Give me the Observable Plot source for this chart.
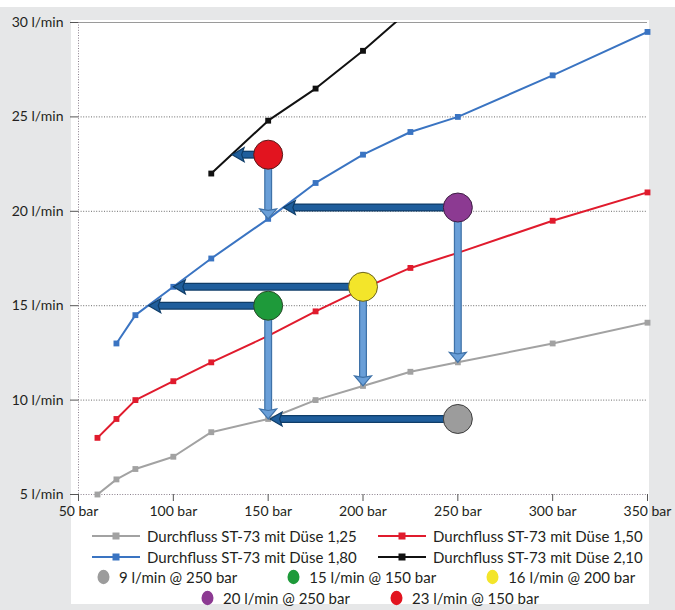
<!DOCTYPE html>
<html>
<head>
<meta charset="utf-8">
<script src="https://cdn.jsdelivr.net/npm/d3@7"></script>
<script src="https://cdn.jsdelivr.net/npm/@observablehq/plot@0.6"></script>
<style>
  html, body { margin: 0; padding: 0; }
  body { width: 675px; height: 610px; background: #e6e7e8; position: relative; overflow: hidden; font-family: Lato, "Open Sans", sans-serif; color: #231f20; }
  #topstrip { position: absolute; left: 0; top: 0; width: 675px; height: 7px; background: #fff; }
  #panel { position: absolute; left: 71px; top: 20px; width: 578px; height: 584px; background: #fff; }
  #chart { position: absolute; left: 0; top: 0; }
  #legend { position: absolute; left: 71px; top: 526px; width: 578px; font-size: 15px; line-height: 20.5px; }
  .row2col { display: grid; grid-template-columns: 286px 286px; padding-left: 21px; }
  .item { display: flex; align-items: center; white-space: nowrap; }
  .item svg { margin-right: 7px; }
  .rowc { display: flex; justify-content: flex-start; }
  .rowc .item svg { margin-right: 9px; }
  .r3 { padding-left: 26px; gap: 50px; }
  .r4 { padding-left: 130px; gap: 40px; }
</style>
</head>
<body>
<div id="topstrip"></div>
<div id="panel"></div>
<div id="chart"></div>
<div id="legend"></div>
<script>
// ---- data ----
const seriesNames = [
  "Durchfluss ST-73 mit Düse 1,25",
  "Durchfluss ST-73 mit Düse 1,50",
  "Durchfluss ST-73 mit Düse 1,80",
  "Durchfluss ST-73 mit Düse 2,10"
];
const pressures125 = [60, 70, 80, 100, 120, 150, 175, 200, 225, 250, 300, 350];
const flow125      = [5.0, 5.8, 6.35, 7.0, 8.3, 9.0, 10.0, 10.75, 11.5, 12.0, 13.0, 14.1];
const pressures150 = [60, 70, 80, 100, 120, 150, 175, 200, 225, 250, 300, 350];
const flow150      = [8.0, 9.0, 10.0, 11.0, 12.0, 13.4, 14.7, 15.9, 17.0, 17.8, 19.5, 21.0];
const pressures180 = [70, 80, 100, 120, 150, 175, 200, 225, 250, 300, 350];
const flow180      = [13.0, 14.5, 16.0, 17.5, 19.6, 21.5, 23.0, 24.2, 25.0, 27.2, 29.5];
const pressures210 = [120, 150, 175, 200, 225];
const flow210      = [22.0, 24.8, 26.5, 28.5, 30.7];

const opLabels    = ["9 l/min @ 250 bar", "15 l/min @ 150 bar", "16 l/min @ 200 bar", "20 l/min @ 250 bar", "23 l/min @ 150 bar"];
const opPressure  = [250, 150, 200, 250, 150];
const opFlow      = [9, 15, 16, 20.2, 23];
const opLeftTo    = [151, 87, 100, 158, 131];      // pressure where the left arrow meets a curve
const opDownTo    = [null, 9.0, 10.75, 12.0, 19.6]; // flow where the down arrow meets a curve

const xTicks = [50, 100, 150, 200, 250, 300, 350];
const yTicks = [5, 10, 15, 20, 25, 30];

// ---- styles ----
const seriesColors = ["#a2a2a2", "#e01b2d", "#3a74c2", "#111111"];
const opColors = ["#9c9c9c", "#1e9a3a", "#f3e52a", "#8c3a92", "#e2141f"];
const opStrokes = ["#3c3c3c", "#2a4a2a", "#6a6320", "#3e1f44", "#5a1a1a"];

// ---- tables ----
const seriesP = [pressures125, pressures150, pressures180, pressures210];
const seriesF = [flow125, flow150, flow180, flow210];
const seriesRows = seriesNames.map((name, i) => seriesP[i].map((p, j) => ({series: name, pressure: p, flow: seriesF[i][j]})));
const ops = opLabels.map((label, i) => ({label, pressure: opPressure[i], flow: opFlow[i], leftTo: opLeftTo[i], downTo: opDownTo[i], i}));
const downOps = ops.filter(d => d.downTo != null);

// arrowhead symbols (tip at the origin)
const headLeft = {draw(ctx) { ctx.moveTo(0, 0); ctx.lineTo(12, -7); ctx.lineTo(9.5, 0); ctx.lineTo(12, 7); ctx.closePath(); }};
const headDown = {draw(ctx) { ctx.moveTo(0, 0); ctx.lineTo(-8.5, -10); ctx.lineTo(0, -8.5); ctx.lineTo(8.5, -10); ctx.closePath(); }};

const gridDot = "1,1.6";

const marks = [
  Plot.ruleY(yTicks.filter(v => v > 5 && v < 30), {stroke: "#6a6a6a", strokeDasharray: gridDot}),
  Plot.ruleY([30], {stroke: "#9a9a9a", strokeWidth: 1}),
  Plot.ruleY([5], {stroke: "#8a7f8c", strokeDasharray: gridDot}),
  Plot.ruleX([50], {stroke: "#8a7f8c", strokeDasharray: gridDot}),
  Plot.axisX({ticks: xTicks, tickFormat: d => d + " bar", tickSize: 7, tickPadding: 5, fontSize: 14, stroke: "#555"}),
  Plot.axisY({ticks: yTicks, tickFormat: d => d + " l/min", tickSize: 8, tickPadding: 7, fontSize: 14, stroke: "#555"}),
  ...seriesRows.map((rows, i) => Plot.line(rows, {x: "pressure", y: "flow", stroke: seriesColors[i], strokeWidth: 2, clip: true})),
  ...seriesRows.map((rows, i) => Plot.dot(rows.filter(d => d.flow <= 30), {x: "pressure", y: "flow", symbol: "square", r: 3.3, fill: seriesColors[i], stroke: "none"})),
  // dark blue horizontal arrows
  Plot.arrow(ops, {x1: "pressure", y1: "flow", x2: "leftTo", y2: "flow", stroke: "#0f3d68", strokeWidth: 8, headLength: 0, insetEnd: 9, strokeLinecap: "butt"}),
  Plot.arrow(ops, {x1: "pressure", y1: "flow", x2: "leftTo", y2: "flow", stroke: "#1f5e9c", strokeWidth: 5.5, headLength: 0, insetEnd: 8, strokeLinecap: "butt"}),
  Plot.dot(ops, {x: "leftTo", y: "flow", symbol: headLeft, fill: "#1f5e9c", stroke: "#0f3d68", strokeWidth: 1.2, r: 5}),
  // light blue vertical arrows
  Plot.arrow(downOps, {x1: "pressure", y1: "flow", x2: "pressure", y2: "downTo", stroke: "#3f72a8", strokeWidth: 8, headLength: 0, insetEnd: 9, strokeLinecap: "butt"}),
  Plot.arrow(downOps, {x1: "pressure", y1: "flow", x2: "pressure", y2: "downTo", stroke: "#6a9fd8", strokeWidth: 5.5, headLength: 0, insetEnd: 8, strokeLinecap: "butt"}),
  Plot.dot(downOps, {x: "pressure", y: "downTo", symbol: headDown, fill: "#6a9fd8", stroke: "#3f72a8", strokeWidth: 1.2, r: 5}),
  // operating points
  Plot.dot(ops, {x: "pressure", y: "flow", r: 14.5, fill: d => opColors[d.i], stroke: d => opStrokes[d.i], strokeWidth: 1})
];

const chart = Plot.plot({
  width: 675,
  height: 530,
  marginLeft: 78,
  marginRight: 28,
  marginTop: 22,
  marginBottom: 36,
  x: {domain: [50, 350]},
  y: {domain: [5, 30]},
  color: {type: "identity"},
  style: {background: "transparent", fontFamily: "Lato, 'Open Sans', sans-serif", fontSize: "14px", color: "#231f20", overflow: "visible"},
  marks
});
document.getElementById("chart").appendChild(chart);

// ---- legend ----
const legend = document.getElementById("legend");
function lineSwatch(color) {
  return `<svg width="48" height="12"><line x1="0" y1="6" x2="48" y2="6" stroke="${color}" stroke-width="2.2"/><rect x="20.5" y="2.5" width="7" height="7" fill="${color}"/></svg>`;
}
function dotSwatch(color) {
  return `<svg width="13" height="16"><ellipse cx="6.5" cy="8" rx="6" ry="7.2" fill="${color}"/></svg>`;
}
let html = "";
for (let r = 0; r < 2; r++) {
  html += `<div class="row2col">`;
  for (let c = 0; c < 2; c++) {
    const i = r * 2 + c;
    html += `<div class="item">${lineSwatch(seriesColors[i])}<span>${seriesNames[i]}</span></div>`;
  }
  html += `</div>`;
}
const opRows = [[0, 1, 2], [3, 4]];
opRows.forEach((row, k) => {
  html += `<div class="rowc r${k + 3}">` + row.map(i => `<div class="item">${dotSwatch(opColors[i])}<span>${opLabels[i]}</span></div>`).join("") + `</div>`;
});
legend.innerHTML = html;
</script>
</body>
</html>
